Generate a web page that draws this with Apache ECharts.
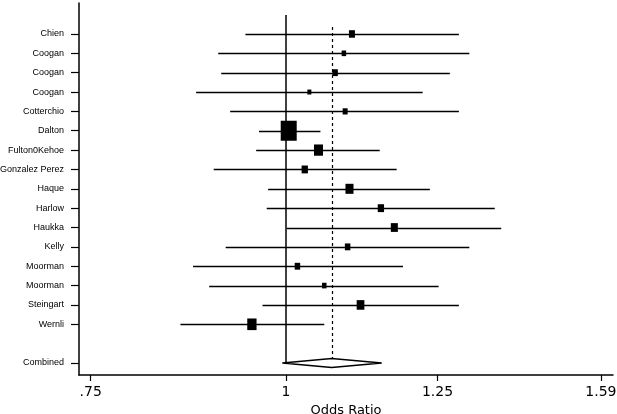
<!DOCTYPE html>
<html><head><meta charset="utf-8">
<script src="https://cdn.jsdelivr.net/npm/echarts@6/dist/echarts.min.js"></script>
<style>html,body{margin:0;padding:0;background:#fff}#c{width:617px;height:414px}</style>
</head><body><div id="c"></div>
<script>
// ---- data ----
const studies = ['Chien','Coogan','Coogan','Coogan','Cotterchio','Dalton','Fulton0Kehoe','Gonzalez Perez','Haque','Harlow','Haukka','Kelly','Moorman','Moorman','Steingart','Wernli'];
const oddsRatio = [1.102,1.089,1.075,1.035,1.091,1.004,1.049,1.028,1.098,1.150,1.173,1.095,1.017,1.058,1.116,0.951];
const ciLower   = [0.942,0.905,0.909,0.876,0.921,0.961,0.957,0.899,0.974,0.972,1.001,0.915,0.872,0.893,0.966,0.856];
const ciUpper   = [1.290,1.310,1.273,1.223,1.290,1.052,1.148,1.177,1.236,1.360,1.373,1.310,1.188,1.252,1.290,1.058];
const weights   = [4.1,2.3,3.4,1.8,2.8,29.0,9.2,4.5,7.3,4.5,5.6,3.4,3.4,2.3,6.7,9.8];
const combinedLabel = 'Combined';
const combinedOR = 1.0696, combinedLower = 0.9946, combinedUpper = 1.1514;
const xTickValues = [0.75, 1, 1.25, 1.59];
const xTickLabels = ['.75', '1', '1.25', '1.59'];
const xAxisTitle = 'Odds Ratio';

// ---- build ----
const ln = Math.log;
const combinedRow = studies.length + 1;
const rowLabels = {};
studies.forEach((s, i) => rowLabels[i] = s);
rowLabels[combinedRow] = combinedLabel;
const rowTicks = studies.map((s, i) => i).concat([combinedRow]);
const maxW = Math.max(...weights);
const snap = v => Math.round(v) + 0.5;

const ciData = studies.map((s, i) => [ln(ciLower[i]), ln(ciUpper[i]), i]);
const pointData = studies.map((s, i) => ({
  value: [ln(oddsRatio[i]), i],
  symbolSize: [16 * Math.sqrt(weights[i] / maxW), 20 * Math.sqrt(weights[i] / maxW)]
}));

const chart = echarts.init(document.getElementById('c'), null, {renderer: 'canvas'});
const black = '#000';
chart.setOption({
  animation: false,
  grid: {left: 79, right: 4, top: 3, bottom: 39, containLabel: false, outerBoundsMode: 'none'},
  xAxis: {
    type: 'value', min: ln(0.7372), max: ln(1.6187),
    axisLine: {show: true, onZero: false, lineStyle: {color: black, width: 1.5}},
    axisTick: {show: true, length: 6, lineStyle: {color: black, width: 1.2}, customValues: xTickValues.map(ln)},
    axisLabel: {
      customValues: xTickValues.map(ln), margin: 10, color: black,
      fontFamily: 'DejaVu Sans', fontSize: 14, hideOverlap: false,
      formatter: v => { const k = xTickValues.findIndex(t => Math.abs(ln(t) - v) < 1e-6); return k >= 0 ? xTickLabels[k] : ''; }
    },
    splitLine: {show: false},
    name: xAxisTitle, nameLocation: 'middle', nameGap: 21,
    nameTextStyle: {color: black, fontFamily: 'DejaVu Sans', fontSize: 13}
  },
  yAxis: {
    type: 'value', inverse: true, min: -1.6, max: 17.62,
    axisLine: {show: true, onZero: false, lineStyle: {color: black, width: 1.5}},
    axisTick: {show: true, length: 8, lineStyle: {color: black, width: 1.2}, customValues: rowTicks},
    axisLabel: {
      customValues: rowTicks, margin: 15, color: black,
      fontFamily: 'Liberation Sans', fontSize: 9,
      formatter: v => rowLabels[Math.round(v)] || ''
    },
    splitLine: {show: false}
  },
  series: [
    { // reference line at OR = 1
      type: 'custom', silent: true, z: 1,
      data: [[0, -0.98, combinedRow]],
      renderItem: (p, api) => {
        const a = api.coord([api.value(0), api.value(1)]), b = api.coord([api.value(0), api.value(2)]);
        return {type: 'line', shape: {x1: a[0], y1: a[1], x2: b[0], y2: b[1]}, style: {stroke: black, lineWidth: 1.5}};
      }
    },
    { // dashed line at combined OR
      type: 'custom', silent: true, z: 1,
      data: [[ln(combinedOR), -0.36, combinedRow]],
      renderItem: (p, api) => {
        const a = api.coord([api.value(0), api.value(1)]), b = api.coord([api.value(0), api.value(2)]);
        const x = snap(a[0]);
        return {type: 'line', shape: {x1: x, y1: a[1], x2: x, y2: b[1] - 4.5}, style: {stroke: black, lineWidth: 1.2, lineDash: [3, 3]}};
      }
    },
    { // confidence intervals
      type: 'custom', silent: true, z: 2,
      data: ciData,
      renderItem: (p, api) => {
        const a = api.coord([api.value(0), api.value(2)]), b = api.coord([api.value(1), api.value(2)]);
        const y = snap(a[1]);
        return {type: 'line', shape: {x1: a[0], y1: y, x2: b[0], y2: y}, style: {stroke: black, lineWidth: 1.3}};
      }
    },
    { // point estimates
      type: 'scatter', z: 3, symbol: 'rect',
      itemStyle: {color: black, opacity: 1},
      data: pointData
    },
    { // combined diamond
      type: 'custom', silent: true, z: 3,
      data: [[ln(combinedLower), ln(combinedOR), ln(combinedUpper), combinedRow]],
      renderItem: (p, api) => {
        const r = api.value(3);
        const l = api.coord([api.value(0), r]), m = api.coord([api.value(1), r]), h = api.coord([api.value(2), r]);
        const hh = 4.5;
        return {type: 'polygon', shape: {points: [[l[0], l[1]], [m[0], m[1] - hh], [h[0], h[1]], [m[0], m[1] + hh]]},
          style: {fill: '#fff', stroke: black, lineWidth: 1.3}};
      }
    }
  ]
});
</script>
</body></html>
